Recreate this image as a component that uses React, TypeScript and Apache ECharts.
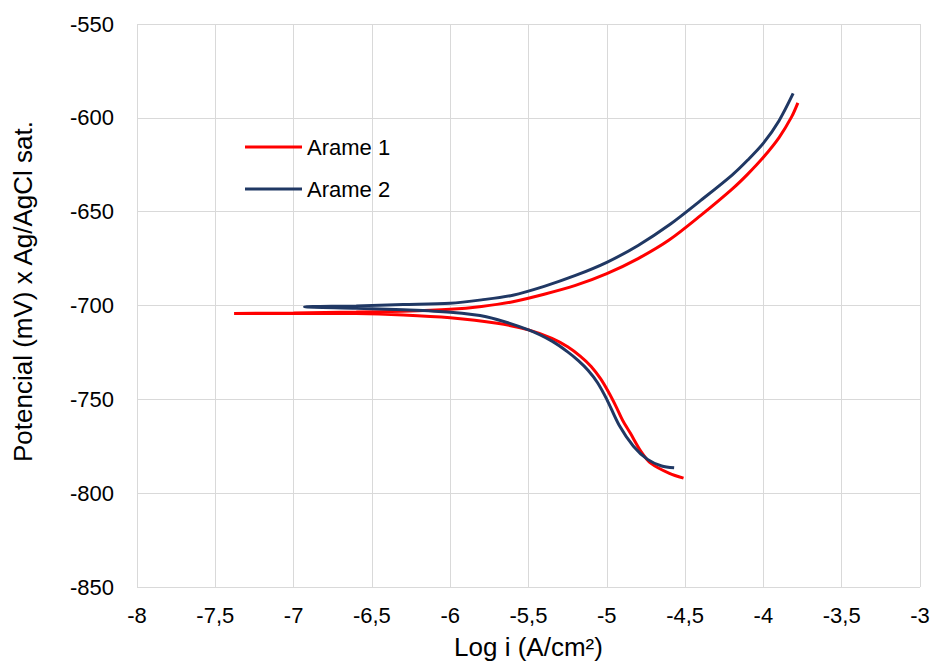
import React, { useEffect, useRef } from "react";
import * as echarts from "echarts";

const seriesNames = ["Arame 1", "Arame 2"];

// Arame 1: cathodic branch (from end to Ecorr) then anodic branch
const arame1X = [
  -4.51, -4.6, -4.72, -4.78, -4.85, -4.9, -4.94, -4.99, -5.04, -5.1, -5.17, -5.25, -5.35, -5.5, -5.7, -6.0, -6.3, -6.6, -7.0, -7.38,
  -7.0, -6.6, -6.3, -6.0, -5.8, -5.6, -5.4, -5.2, -5.0, -4.8, -4.6, -4.4, -4.2, -4.1, -4.0, -3.9, -3.82, -3.78,
];
const arame1Y = [
  -792, -789.5, -784, -778, -768, -761, -754, -746, -739, -732.5, -727, -722, -717.5, -713, -709.5, -706.5, -705, -704.3, -704.2, -704.2,
  -704, -703.5, -703, -702, -700.5, -698, -694, -689.3, -683, -675, -665, -652, -638, -630, -621, -610.5, -599.5, -592,
];

// Arame 2
const arame2X = [
  -4.57, -4.65, -4.74, -4.83, -4.92, -5.0, -5.06, -5.12, -5.18, -5.25, -5.35, -5.5, -5.77, -6.0, -6.3, -6.6, -6.93,
  -6.6, -6.3, -6.0, -5.8, -5.6, -5.4, -5.2, -5.0, -4.8, -4.6, -4.4, -4.2, -4.1, -4.0, -3.9, -3.81,
];
const arame2Y = [
  -786.5, -785.5, -782, -775, -764, -750, -741, -734.5, -729.5, -724.7, -719, -713, -706, -703.6, -702.3, -701.5, -700.7,
  -700.2, -699.5, -698.8, -697, -694.5, -689.8, -684, -677, -668, -657, -644, -630.5, -622.5, -613.5, -601.5, -587,
];

const xTicks = { min: -8, max: -3, interval: 0.5 };
const yTicks = { min: -850, max: -550, interval: 50 };

const colors = ["#FF0000", "#203864"];

export default function App() {
  const ref = useRef<HTMLDivElement>(null);
  useEffect(() => {
    if (!ref.current) return;
    const chart = echarts.init(ref.current, undefined, { renderer: "svg" });
    const font = "'Liberation Sans', Arial, sans-serif";
    const toPairs = (xs: number[], ys: number[]) => xs.map((x, i) => [x, ys[i]]);
    chart.setOption({
      animation: false,
      backgroundColor: "#ffffff",
      grid: { left: 137, right: 13, top: 24, bottom: 77, containLabel: false, outerBoundsMode: "none" },
      legend: {
        orient: "vertical",
        left: 240,
        top: 130,
        itemWidth: 57,
        itemHeight: 3,
        itemGap: 18,
        textStyle: { fontFamily: font, fontSize: 22, color: "#000", lineHeight: 24 },
        data: seriesNames.map((n) => ({ name: n, icon: "rect" })),
      },
      xAxis: {
        type: "value",
        min: xTicks.min,
        max: xTicks.max,
        interval: xTicks.interval,
        name: "Log i (A/cm²)",
        nameLocation: "middle",
        nameGap: 47,
        nameTextStyle: { fontFamily: font, fontSize: 26, color: "#000" },
        axisLine: { show: false },
        axisTick: { show: false },
        axisLabel: {
          margin: 17,
          fontFamily: font,
          fontSize: 22,
          color: "#000",
          formatter: (v: number) => String(v).replace(".", ","),
        },
        splitLine: { show: true, lineStyle: { color: "#D9D9D9", width: 1 } },
      },
      yAxis: {
        type: "value",
        min: yTicks.min,
        max: yTicks.max,
        interval: yTicks.interval,
        name: "Potencial (mV) x Ag/AgCl sat.",
        nameLocation: "middle",
        nameGap: 101,
        nameRotate: 90,
        nameTextStyle: { fontFamily: font, fontSize: 26, color: "#000", padding: [0, 0, 0, 28] },
        axisLine: { show: false },
        axisTick: { show: false },
        axisLabel: { margin: 23, fontFamily: font, fontSize: 22, color: "#000" },
        splitLine: { show: true, lineStyle: { color: "#D9D9D9", width: 1 } },
      },
      series: [
        {
          name: seriesNames[0],
          type: "line",
          data: toPairs(arame1X, arame1Y),
          showSymbol: false,
          smooth: 0.3,
          color: colors[0],
          lineStyle: { width: 3, color: colors[0] },
        },
        {
          name: seriesNames[1],
          type: "line",
          data: toPairs(arame2X, arame2Y),
          showSymbol: false,
          smooth: 0.3,
          color: colors[1],
          lineStyle: { width: 3, color: colors[1] },
        },
      ],
    });
    return () => chart.dispose();
  }, []);
  return (
    <div
      ref={ref}
      style={{ position: "fixed", left: 0, top: 0, width: 933, height: 664, background: "#fff" }}
    />
  );
}
